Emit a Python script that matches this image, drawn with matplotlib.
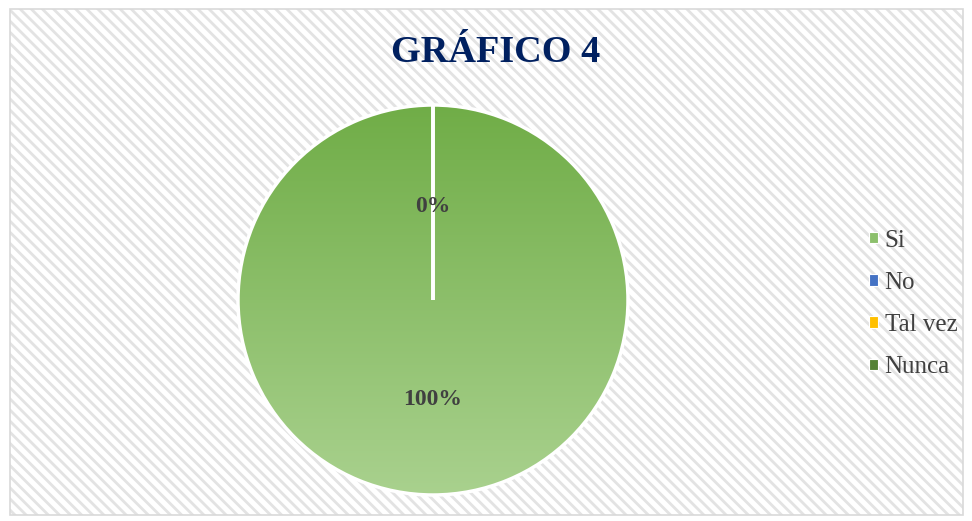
import matplotlib
matplotlib.use("Agg")
import matplotlib.pyplot as plt
import numpy as np
from matplotlib.patches import Rectangle, Patch
from matplotlib.colors import LinearSegmentedColormap

# data
categories = ["Si", "No", "Tal vez", "Nunca"]
values = [100, 0, 0, 0]
pct_labels = ["100%", "0%"]
legend_colors = ["#8CC06C", "#4472C4", "#FFC000", "#548235"]

plt.rcParams["font.family"] = ["Liberation Serif", "DejaVu Serif"]
plt.rcParams["hatch.linewidth"] = 2.0
plt.rcParams["hatch.color"] = "#E3E3E3"

W, H = 972, 521
fig = plt.figure(figsize=(W / 100, H / 100), dpi=100)
fig.patch.set_facecolor("white")

# hatched chart area with border (behind the axes)
bg = Rectangle((10 / W, 6 / H), 953 / W, 506 / H, transform=fig.transFigure,
               facecolor="white", edgecolor="#E3E3E3", hatch="\\\\\\", lw=0,
               zorder=-10)
fig.patches.append(bg)
border = Rectangle((10 / W, 6 / H), 953 / W, 506 / H, transform=fig.transFigure,
                   facecolor="none", edgecolor="#D9D9D9", lw=1.2, zorder=-9)
fig.patches.append(border)

# pie axes: center (433, 300), radius ~194 px
r = 195
ax = fig.add_axes([(433 - r) / W, (H - 300 - r) / H, 2 * r / W, 2 * r / H])
ax.set_facecolor("none")

wedges, _ = ax.pie(values, startangle=90, counterclock=False, radius=1,
                   colors=["none"] * 4,
                   wedgeprops=dict(edgecolor="white", linewidth=2.5))
for w in wedges:
    w.set_zorder(3)

cmap = LinearSegmentedColormap.from_list("g", ["#70AD47", "#A9D18E"])
grad = np.linspace(0, 1, 256).reshape(-1, 1)
im = ax.imshow(grad, cmap=cmap, extent=(-1, 1, -1, 1), origin="upper",
               aspect="auto", zorder=1)
im.set_clip_path(wedges[0])
ax.set_xlim(-1.0, 1.0)
ax.set_ylim(-1.0, 1.0)
ax.axis("off")

ax.text(0, -0.51, pct_labels[0], ha="center", va="center", fontsize=17,
        fontweight="bold", color="#404040", zorder=5)
ax.text(0, 0.48, pct_labels[1], ha="center", va="center", fontsize=17,
        fontweight="bold", color="#404040", zorder=5)

fig.text(496 / W, 1 - 52 / H, "GRÁFICO 4", ha="center", va="center",
         fontsize=27.5, fontweight="bold", color="#002060")

handles = [Patch(facecolor=c, edgecolor="white", lw=0.8) for c in legend_colors]
leg = fig.legend(handles, categories, loc="center left",
                 bbox_to_anchor=(869 / W, 1 - 304 / H), frameon=False,
                 fontsize=18, handlelength=0.34, handleheight=0.34,
                 handletextpad=0.28, labelspacing=0.81, borderpad=0,
                 borderaxespad=0)
for t in leg.get_texts():
    t.set_color("#404040")

fig.savefig("out.png", dpi=100)
